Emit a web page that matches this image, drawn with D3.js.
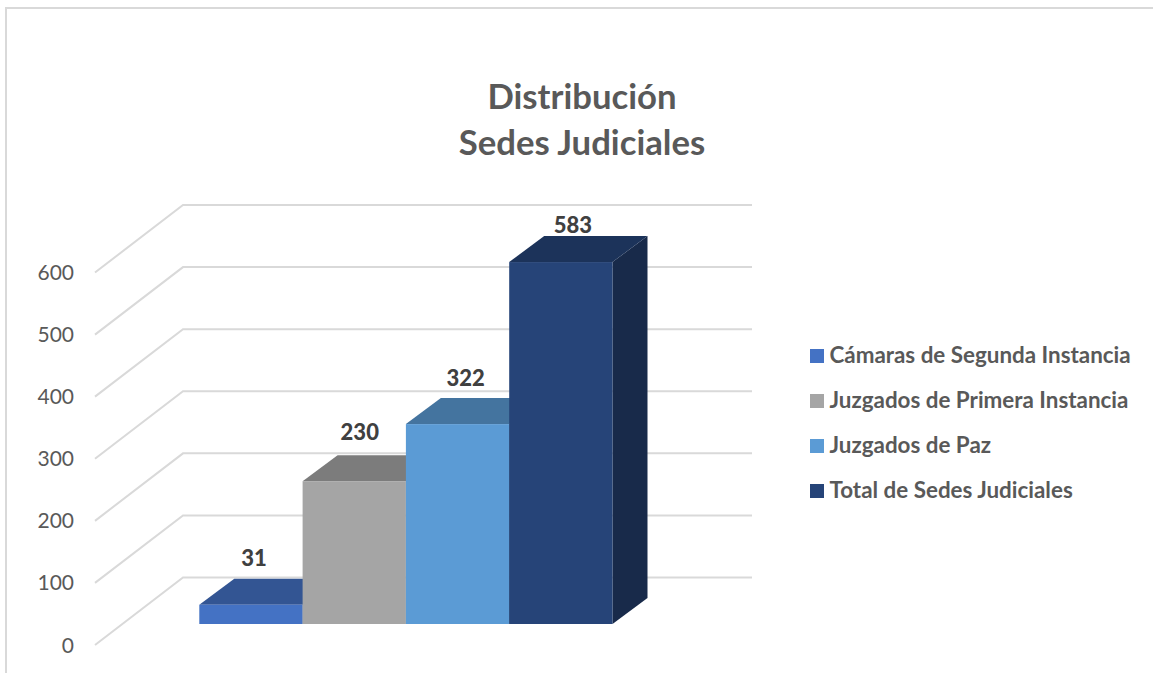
<!DOCTYPE html>
<html>
<head>
<meta charset="utf-8">
<script src="https://cdn.jsdelivr.net/npm/d3@7"></script>
<style>
  html, body { margin: 0; padding: 0; background: #fff; }
  svg { display: block; font-family: Lato, "Open Sans", sans-serif; }
</style>
</head>
<body>
<div id="chart"></div>
<script>
const titleLines = ['Distribución', 'Sedes Judiciales'];
const categories = ['Cámaras de Segunda Instancia', 'Juzgados de Primera Instancia', 'Juzgados de Paz', 'Total de Sedes Judiciales'];
const values = [31, 230, 322, 583];
const ticks = [0, 100, 200, 300, 400, 500, 600];
const frontColors = ['#4472c4', '#a5a5a5', '#5b9bd5', '#264478'];
const topColors = ['#335593', '#7c7c7c', '#44749f', '#1c335a'];
const sideColors = ['#2a4679', '#666666', '#375f83', '#182a4a'];

const width = 1153;
const height = 673;
const svg = d3.select('#chart').append('svg')
  .attr('width', width)
  .attr('height', height);

// scales, y is measured on the back wall of the 3d box
const y = d3.scaleLinear().domain([0, 600]).range([577.5, 205]);
const x = d3.scaleBand().domain(categories).range([199.3, 612.5]);
const color = d3.scaleOrdinal().domain(categories).range(frontColors);

const wall = { left: 183, right: 752, dx: 88, dy: 67.5 };
const barDrop = 46.5;
const depth = { dx: 35, dy: 26 };
// hand placed labels drift right with each bar, the tallest one sits lower
const labelShift = [{ x: 3, y: 13 }, { x: 5.5, y: 15 }, { x: 8, y: 12 }, { x: 12, y: 3 }];

// frame of the pasted picture
svg.append('path')
  .attr('d', `M6,${height} V8 H${width}`)
  .attr('fill', 'none')
  .attr('stroke', '#d9d9d9')
  .attr('stroke-width', 2);

// gridlines, wall and floor side
const grid = svg.append('g').attr('fill', 'none').attr('stroke', '#d9d9d9').attr('stroke-width', 2);
grid.selectAll('path').data(ticks).enter().append('path')
  .attr('d', d => `M${wall.left - wall.dx},${y(d) + wall.dy} L${wall.left},${y(d)} H${wall.right}`);

// tick labels
svg.append('g').selectAll('text').data(ticks).enter().append('text')
  .attr('x', 74)
  .attr('y', d => y(d) + wall.dy)
  .attr('dy', '0.36em')
  .attr('text-anchor', 'end')
  .attr('font-size', 21)
  .attr('fill', '#595959')
  .text(d => d);

// bars
const bars = svg.append('g').selectAll('g').data(categories).enter().append('g');
const front = i => ({
  x0: x(categories[i]),
  x1: x(categories[i]) + x.bandwidth(),
  y0: y(values[i]) + barDrop,
  y1: y(0) + barDrop,
});
bars.append('path')
  .attr('fill', (d, i) => sideColors[i])
  .attr('d', (d, i) => {
    const f = front(i);
    return `M${f.x1},${f.y0} L${f.x1 + depth.dx},${f.y0 - depth.dy} V${f.y1 - depth.dy} L${f.x1},${f.y1} Z`;
  });
bars.append('path')
  .attr('fill', (d, i) => topColors[i])
  .attr('d', (d, i) => {
    const f = front(i);
    return `M${f.x0},${f.y0} L${f.x0 + depth.dx},${f.y0 - depth.dy} H${f.x1 + depth.dx} L${f.x1},${f.y0} Z`;
  });
bars.append('rect')
  .attr('x', (d, i) => front(i).x0)
  .attr('y', (d, i) => front(i).y0)
  .attr('width', x.bandwidth())
  .attr('height', (d, i) => front(i).y1 - front(i).y0)
  .attr('fill', d => color(d));

// value labels
svg.append('g').selectAll('text').data(categories).enter().append('text')
  .attr('x', (d, i) => x(d) + x.bandwidth() / 2 + labelShift[i].x)
  .attr('y', (d, i) => front(i).y0 - depth.dy - labelShift[i].y)
  .attr('text-anchor', 'middle')
  .attr('font-size', 22)
  .attr('font-weight', 900)
  .attr('fill', '#404040')
  .text((d, i) => values[i]);

// title
svg.append('g').selectAll('text').data(titleLines).enter().append('text')
  .attr('x', 582)
  .attr('y', (d, i) => 109 + i * 46)
  .attr('text-anchor', 'middle')
  .attr('font-size', 34.7)
  .attr('font-weight', 700)
  .attr('fill', '#595959')
  .text(d => d);

// legend
const legend = svg.append('g').selectAll('g').data(categories).enter().append('g')
  .attr('transform', (d, i) => `translate(810, ${356 + i * 45})`);
legend.append('rect')
  .attr('y', -7)
  .attr('width', 14)
  .attr('height', 14)
  .attr('fill', d => color(d));
legend.append('text')
  .attr('x', 19.5)
  .attr('y', -1)
  .attr('dy', '0.36em')
  .attr('font-size', 22.4)
  .attr('font-weight', 700)
  .attr('fill', '#595959')
  .text(d => d);
</script>
</body>
</html>
